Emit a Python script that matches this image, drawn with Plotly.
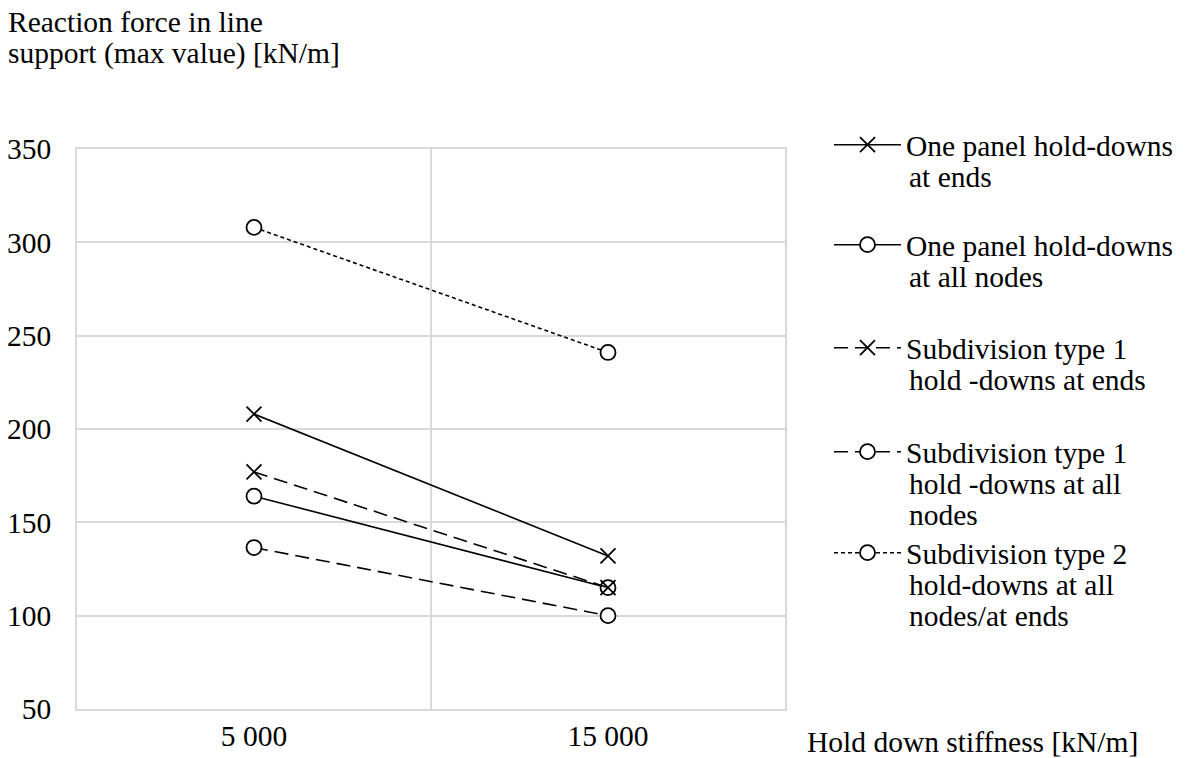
import plotly.graph_objects as go

# Hold-down stiffness categories [kN/m]
stiffness = ["5 000", "15 000"]

# Maximum reaction force in the line support [kN/m]
one_panel_ends = [208, 132]
one_panel_all_nodes = [164, 115]
sub1_ends = [177, 115]
sub1_all_nodes = [136.5, 100]
sub2_all_nodes_ends = [308, 241]

# Series labels, one list item per text line
series_labels = [
    ["One panel hold-downs", "at ends"],
    ["One panel hold-downs", "at all nodes"],
    ["Subdivision type 1", "hold -downs at ends"],
    ["Subdivision type 1", "hold -downs at all", "nodes"],
    ["Subdivision type 2", "hold-downs at all", "nodes/at ends"],
]

y_title_lines = ["Reaction force in line", "support (max value) [kN/m]"]
x_title = "Hold down stiffness [kN/m]"

FONT = "Liberation Serif"
FS = 29.5
GRID = "#d9d9d9"

# Plot area in pixels
LEFT, RIGHT, TOP, BOTTOM = 77, 785, 149, 709
W, H = 1185, 758
LINE_H = 31.5  # text line pitch in the legend and title


def cx(p):
    return p / W


def cy(p):
    return 1 - p / H


def py(p):
    return (BOTTOM - p) / (BOTTOM - TOP)


def px(p):
    return (p - LEFT) / (RIGHT - LEFT)


styles = [
    dict(values=one_panel_ends, dash="solid", symbol="x-thin"),
    dict(values=one_panel_all_nodes, dash="solid", symbol="circle"),
    dict(values=sub1_ends, dash="14px,7px", symbol="x-thin"),
    dict(values=sub1_all_nodes, dash="14px,7px", symbol="circle"),
    dict(values=sub2_all_nodes_ends, dash="4px,3px", symbol="circle"),
]

# vertical centre of the first text line of each legend entry
legend_rows = [145, 245, 348, 452, 553]
LEG_X = 829
TEXT_X = 907

fig = go.Figure()
for i, (lines, st) in enumerate(zip(series_labels, styles)):
    lg = "legend" if i == 0 else f"legend{i + 1}"
    fig.add_trace(
        go.Scatter(
            x=stiffness,
            y=st["values"],
            name=lines[0],
            mode="lines+markers",
            line=dict(color="black", width=1.6, dash=st["dash"]),
            marker=dict(
                symbol=st["symbol"],
                size=15,
                color="white" if st["symbol"] == "circle" else "black",
                line=dict(color="black", width=1.8),
            ),
            legend=lg,
            cliponaxis=False,
        )
    )

legend_common = dict(
    font=dict(family=FONT, size=FS, color="black"),
    bgcolor="rgba(0,0,0,0)",
    borderwidth=0,
    valign="middle",
    itemwidth=67,
    xref="container",
    yref="container",
    xanchor="left",
    yanchor="middle",
    x=cx(LEG_X),
)
layout_legends = {}
annotations = []
for i, row in enumerate(legend_rows):
    key = "legend" if i == 0 else f"legend{i + 1}"
    layout_legends[key] = dict(legend_common, y=cy(row))
    # continuation lines of the legend label
    for j, txt in enumerate(series_labels[i][1:], start=1):
        annotations.append(
            dict(
                text=txt,
                xref="paper",
                yref="paper",
                x=px(TEXT_X),
                y=py(row + j * LINE_H),
                xanchor="left",
                yanchor="middle",
                showarrow=False,
                font=dict(family=FONT, size=FS, color="black"),
            )
        )

for j, txt in enumerate(y_title_lines):
    annotations.append(
        dict(
            text=txt,
            xref="paper",
            yref="paper",
            x=px(6),
            y=py(22 + j * LINE_H),
            xanchor="left",
            yanchor="middle",
            showarrow=False,
            font=dict(family=FONT, size=FS, color="black"),
        )
    )

annotations.append(
    dict(
        text=x_title,
        xref="paper",
        yref="paper",
        x=px(805),
        y=py(742),
        xanchor="left",
        yanchor="middle",
        showarrow=False,
        font=dict(family=FONT, size=FS, color="black"),
    )
)

fig.update_layout(
    width=W,
    height=H,
    margin=dict(l=LEFT, r=W - RIGHT, t=TOP, b=H - BOTTOM, autoexpand=False),
    paper_bgcolor="white",
    plot_bgcolor="white",
    font=dict(family=FONT, size=FS, color="black"),
    showlegend=True,
    **layout_legends,
    xaxis=dict(
        type="category",
        categoryorder="array",
        categoryarray=stiffness,
        range=[-0.5, 1.5],
        tickson="boundaries",
        showgrid=True,
        gridcolor=GRID,
        gridwidth=1.5,
        showline=True,
        linecolor=GRID,
        linewidth=1.5,
        mirror=True,
        ticks="",
        tickfont=dict(family=FONT, size=FS),
        ticklabelstandoff=0,
        zeroline=False,
        automargin=False,
    ),
    yaxis=dict(
        range=[50, 350],
        dtick=50,
        tick0=50,
        showgrid=True,
        gridcolor=GRID,
        gridwidth=1.5,
        showline=True,
        linecolor=GRID,
        linewidth=1.5,
        mirror=True,
        ticks="",
        tickfont=dict(family=FONT, size=FS),
        ticklabelstandoff=18,
        zeroline=False,
        automargin=False,
    ),
    annotations=annotations,
)

fig.write_html("out.html")
